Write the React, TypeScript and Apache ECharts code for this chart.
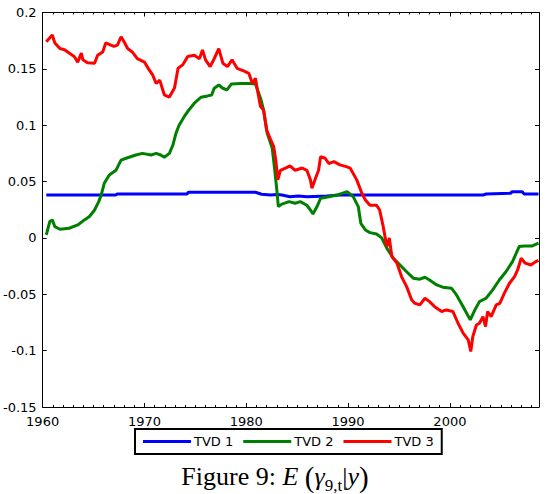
import React, { useEffect, useRef } from "react";
import * as echarts from "echarts";

const xTickLabels = ["1960", "1970", "1980", "1990", "2000"];
const seriesNames = ["TVD 1", "TVD 2", "TVD 3"];

const tvd1Years = [1960.36, 1967.2, 1967.3, 1974.2, 1974.3, 1980.9, 1981.5, 1982.4, 1983.05, 1983.5, 1984.3, 1985.1, 1985.95, 1987.9, 1989.2, 2003.25, 2003.55, 2006.0, 2006.1, 2007.1, 2007.3, 2008.7];
const tvd1Values = [0.038, 0.038, 0.039, 0.039, 0.0405, 0.0405, 0.0388, 0.038, 0.0385, 0.038, 0.0366, 0.0373, 0.0366, 0.0373, 0.038, 0.038, 0.039, 0.0397, 0.041, 0.041, 0.039, 0.039];

const tvd2Years = [1960.36, 1960.7, 1960.95, 1961.2, 1961.7, 1962.6, 1963.45, 1964.1, 1964.6, 1965.1, 1965.5, 1965.75, 1966.05, 1966.55, 1967.2, 1967.7, 1968.2, 1969.15, 1969.8, 1970.65, 1971.15, 1971.6, 1971.95, 1972.45, 1972.8, 1973.1, 1973.4, 1973.9, 1974.4, 1974.9, 1975.55, 1976.2, 1976.6, 1976.85, 1977.3, 1977.7, 1978.1, 1978.55, 1979.45, 1980.4, 1980.9, 1981.4, 1981.7, 1982.05, 1982.55, 1982.8, 1983.0, 1983.15, 1983.5, 1984.2, 1984.8, 1985.3, 1985.95, 1986.3, 1986.55, 1986.95, 1987.3, 1988.1, 1988.9, 1989.55, 1989.9, 1990.5, 1991.0, 1991.25, 1991.7, 1992.15, 1992.8, 1993.3, 1993.8, 1994.45, 1995.1, 1995.75, 1996.4, 1997.05, 1997.55, 1998.0, 1998.7, 1999.3, 2000.15, 2000.65, 2001.3, 2002.0, 2002.45, 2002.9, 2003.55, 2004.2, 2004.85, 2005.5, 2006.15, 2006.8, 2007.3, 2008.1, 2008.7];
const tvd2Values = [0.0027, 0.0145, 0.016, 0.01, 0.0077, 0.0086, 0.0115, 0.016, 0.019, 0.0248, 0.032, 0.038, 0.0485, 0.0559, 0.06, 0.069, 0.0707, 0.0736, 0.075, 0.0736, 0.075, 0.0736, 0.0716, 0.075, 0.0825, 0.093, 0.1, 0.1076, 0.114, 0.1195, 0.1248, 0.126, 0.1268, 0.1328, 0.1357, 0.1328, 0.1313, 0.1366, 0.137, 0.137, 0.1366, 0.124, 0.1135, 0.093, 0.0796, 0.06, 0.0426, 0.0278, 0.03, 0.0322, 0.0308, 0.0322, 0.029, 0.0248, 0.0213, 0.0278, 0.0352, 0.0366, 0.038, 0.04, 0.041, 0.0366, 0.0278, 0.013, 0.0071, 0.0047, 0.0035, 0.0, -0.0091, -0.018, -0.024, -0.03, -0.0357, -0.0366, -0.0349, -0.0373, -0.0417, -0.0437, -0.0446, -0.0506, -0.061, -0.0727, -0.0639, -0.0565, -0.0535, -0.0461, -0.0373, -0.03, -0.021, -0.0077, -0.0071, -0.0071, -0.0047];

const tvd3Years = [1960.36, 1960.95, 1961.2, 1961.7, 1962.15, 1962.6, 1963.1, 1963.45, 1963.8, 1963.95, 1964.4, 1965.1, 1965.4, 1965.9, 1966.2, 1966.7, 1967.0, 1967.35, 1967.7, 1968.0, 1968.35, 1968.8, 1969.3, 1970.0, 1970.4, 1970.8, 1971.15, 1971.5, 1971.95, 1972.45, 1972.95, 1973.3, 1973.75, 1974.25, 1974.9, 1975.4, 1975.7, 1976.0, 1976.45, 1976.85, 1977.3, 1977.7, 1978.15, 1978.6, 1979.1, 1979.8, 1980.25, 1980.6, 1980.9, 1981.1, 1981.4, 1981.7, 1982.0, 1982.4, 1982.7, 1982.9, 1983.1, 1983.35, 1983.85, 1984.3, 1984.8, 1985.5, 1985.95, 1986.3, 1986.45, 1986.8, 1987.1, 1987.3, 1987.75, 1988.1, 1988.6, 1989.2, 1989.9, 1990.2, 1990.85, 1991.35, 1991.7, 1992.15, 1992.8, 1993.1, 1993.45, 1993.8, 1994.05, 1994.3, 1994.8, 1995.25, 1995.75, 1996.25, 1996.55, 1997.05, 1997.55, 1998.0, 1998.5, 1999.2, 1999.65, 2000.3, 2000.8, 2001.3, 2001.8, 2002.05, 2002.25, 2002.6, 2002.9, 2003.25, 2003.5, 2003.7, 2004.05, 2004.55, 2004.9, 2005.35, 2005.85, 2006.35, 2006.65, 2007.0, 2007.4, 2007.95, 2008.45, 2008.7];
const tvd3Values = [0.174, 0.18, 0.173, 0.168, 0.167, 0.164, 0.161, 0.156, 0.164, 0.158, 0.1555, 0.155, 0.162, 0.165, 0.173, 0.171, 0.17, 0.171, 0.1785, 0.174, 0.168, 0.165, 0.159, 0.156, 0.15, 0.1446, 0.137, 0.14, 0.127, 0.125, 0.133, 0.1505, 0.1535, 0.161, 0.162, 0.159, 0.1668, 0.158, 0.152, 0.159, 0.168, 0.155, 0.152, 0.158, 0.1505, 0.148, 0.146, 0.137, 0.1417, 0.131, 0.1165, 0.1135, 0.0958, 0.087, 0.081, 0.069, 0.0515, 0.06, 0.062, 0.064, 0.06, 0.062, 0.06, 0.0515, 0.044, 0.053, 0.06, 0.072, 0.0707, 0.066, 0.0677, 0.0648, 0.063, 0.062, 0.0515, 0.0396, 0.0337, 0.029, 0.029, 0.0248, 0.01, -0.0077, 0.0, -0.0166, -0.0224, -0.0343, -0.0432, -0.055, -0.058, -0.0594, -0.0535, -0.0565, -0.061, -0.0653, -0.0639, -0.0653, -0.0757, -0.0845, -0.0905, -0.1008, -0.0875, -0.0772, -0.0757, -0.0698, -0.0787, -0.0653, -0.0698, -0.0594, -0.058, -0.049, -0.0402, -0.0343, -0.0284, -0.018, -0.0224, -0.024, -0.021, -0.02];

const X_MIN = 1960;
const X_MAX = 2008.75;
const Y_MIN = -0.15;
const Y_MAX = 0.2;

const zip = (xs: number[], ys: number[]) => xs.map((x, i) => [x, ys[i]]);

export default function App() {
  const ref = useRef<HTMLDivElement>(null);
  useEffect(() => {
    document.body.style.margin = "0";
    if (!ref.current) return;
    const chart = echarts.init(ref.current, undefined, { renderer: "svg" });
    const axisLine = { show: true, onZero: false, lineStyle: { color: "#000", width: 1 } };
    const noLine = { show: false, onZero: false };
    const baseX = {
      type: "value" as const,
      min: X_MIN,
      max: X_MAX,
      splitLine: { show: false },
    };
    const labelFont = { fontFamily: "DejaVu Sans", fontSize: 13, color: "#000" };
    const option: any = {
      animation: false,
      backgroundColor: "#fff",
      grid: { left: 41, right: 11, top: 12.5, bottom: 87, containLabel: false },
      xAxis: [
        {
          ...baseX,
          position: "bottom",
          interval: 10,
          axisLine,
          axisTick: { show: true, inside: true, length: 4, lineStyle: { color: "#000" } },
          axisLabel: {
            ...labelFont,
            margin: 8,
            showMaxLabel: false,
            formatter: (v: number) => (xTickLabels.includes(String(v)) ? String(v) : ""),
          },
        },
        {
          ...baseX,
          position: "bottom",
          interval: 1,
          axisLine: noLine,
          axisTick: { show: true, inside: true, length: 2, lineStyle: { color: "#000" } },
          axisLabel: { show: false },
        },
        {
          ...baseX,
          position: "top",
          interval: 10,
          axisLine,
          axisTick: { show: true, inside: true, length: 4, lineStyle: { color: "#000" } },
          axisLabel: { show: false },
        },
        {
          ...baseX,
          position: "top",
          interval: 1,
          axisLine: noLine,
          axisTick: { show: true, inside: true, length: 2, lineStyle: { color: "#000" } },
          axisLabel: { show: false },
        },
      ],
      yAxis: [
        {
          type: "value",
          min: Y_MIN,
          max: Y_MAX,
          interval: 0.05,
          position: "left",
          axisLine,
          splitLine: { show: false },
          axisTick: { show: true, inside: true, length: 4, lineStyle: { color: "#000" } },
          axisLabel: {
            ...labelFont,
            margin: 6,
            formatter: (v: number) => String(+v.toFixed(2)),
          },
        },
        {
          type: "value",
          min: Y_MIN,
          max: Y_MAX,
          interval: 0.05,
          position: "right",
          axisLine,
          splitLine: { show: false },
          axisTick: { show: true, inside: true, length: 4, lineStyle: { color: "#000" } },
          axisLabel: { show: false },
        },
      ],
      legend: {
        data: seriesNames,
        left: 135,
        top: 429,
        icon: "rect",
        itemWidth: 48,
        itemHeight: 3,
        itemGap: 10,
        padding: [6, 8, 6, 8],
        borderColor: "#000",
        borderWidth: 2,
        borderRadius: 0,
        textStyle: { fontFamily: "DejaVu Sans", fontSize: 13, color: "#000", padding: [0, 0, 0, -2] },
      },
      graphic: [
        {
          type: "text",
          left: "center",
          top: 462,
          style: {
            text: "{r|Figure 9: }{i|E}{r| }{p|(}{i|γ}{s|9,t}{r||}{i|y}{p|)}",
            rich: {
              r: { fontFamily: "Liberation Serif", fontSize: 26, lineHeight: 30, fill: "#000" },
              i: { fontFamily: "Liberation Serif", fontStyle: "italic", fontSize: 26, lineHeight: 30, fill: "#000" },
              p: { fontFamily: "Liberation Serif", fontSize: 29, lineHeight: 30, fill: "#000" },
              s: { fontFamily: "Liberation Serif", fontSize: 17, lineHeight: 34, verticalAlign: "bottom", fill: "#000" },
            },
          },
        },
      ],
      series: [
        {
          name: seriesNames[0],
          type: "line",
          data: zip(tvd1Years, tvd1Values),
          showSymbol: false,
          symbol: "none",
          color: "#0000ff",
          lineStyle: { width: 3, color: "#0000ff" },
        },
        {
          name: seriesNames[1],
          type: "line",
          data: zip(tvd2Years, tvd2Values),
          showSymbol: false,
          symbol: "none",
          color: "#008000",
          lineStyle: { width: 3, color: "#008000" },
        },
        {
          name: seriesNames[2],
          type: "line",
          data: zip(tvd3Years, tvd3Values),
          showSymbol: false,
          symbol: "none",
          color: "#ff0000",
          lineStyle: { width: 3, color: "#ff0000" },
        },
      ],
    };
    chart.setOption(option);
    return () => chart.dispose();
  }, []);
  return <div ref={ref} style={{ width: 550, height: 494 }} />;
}
